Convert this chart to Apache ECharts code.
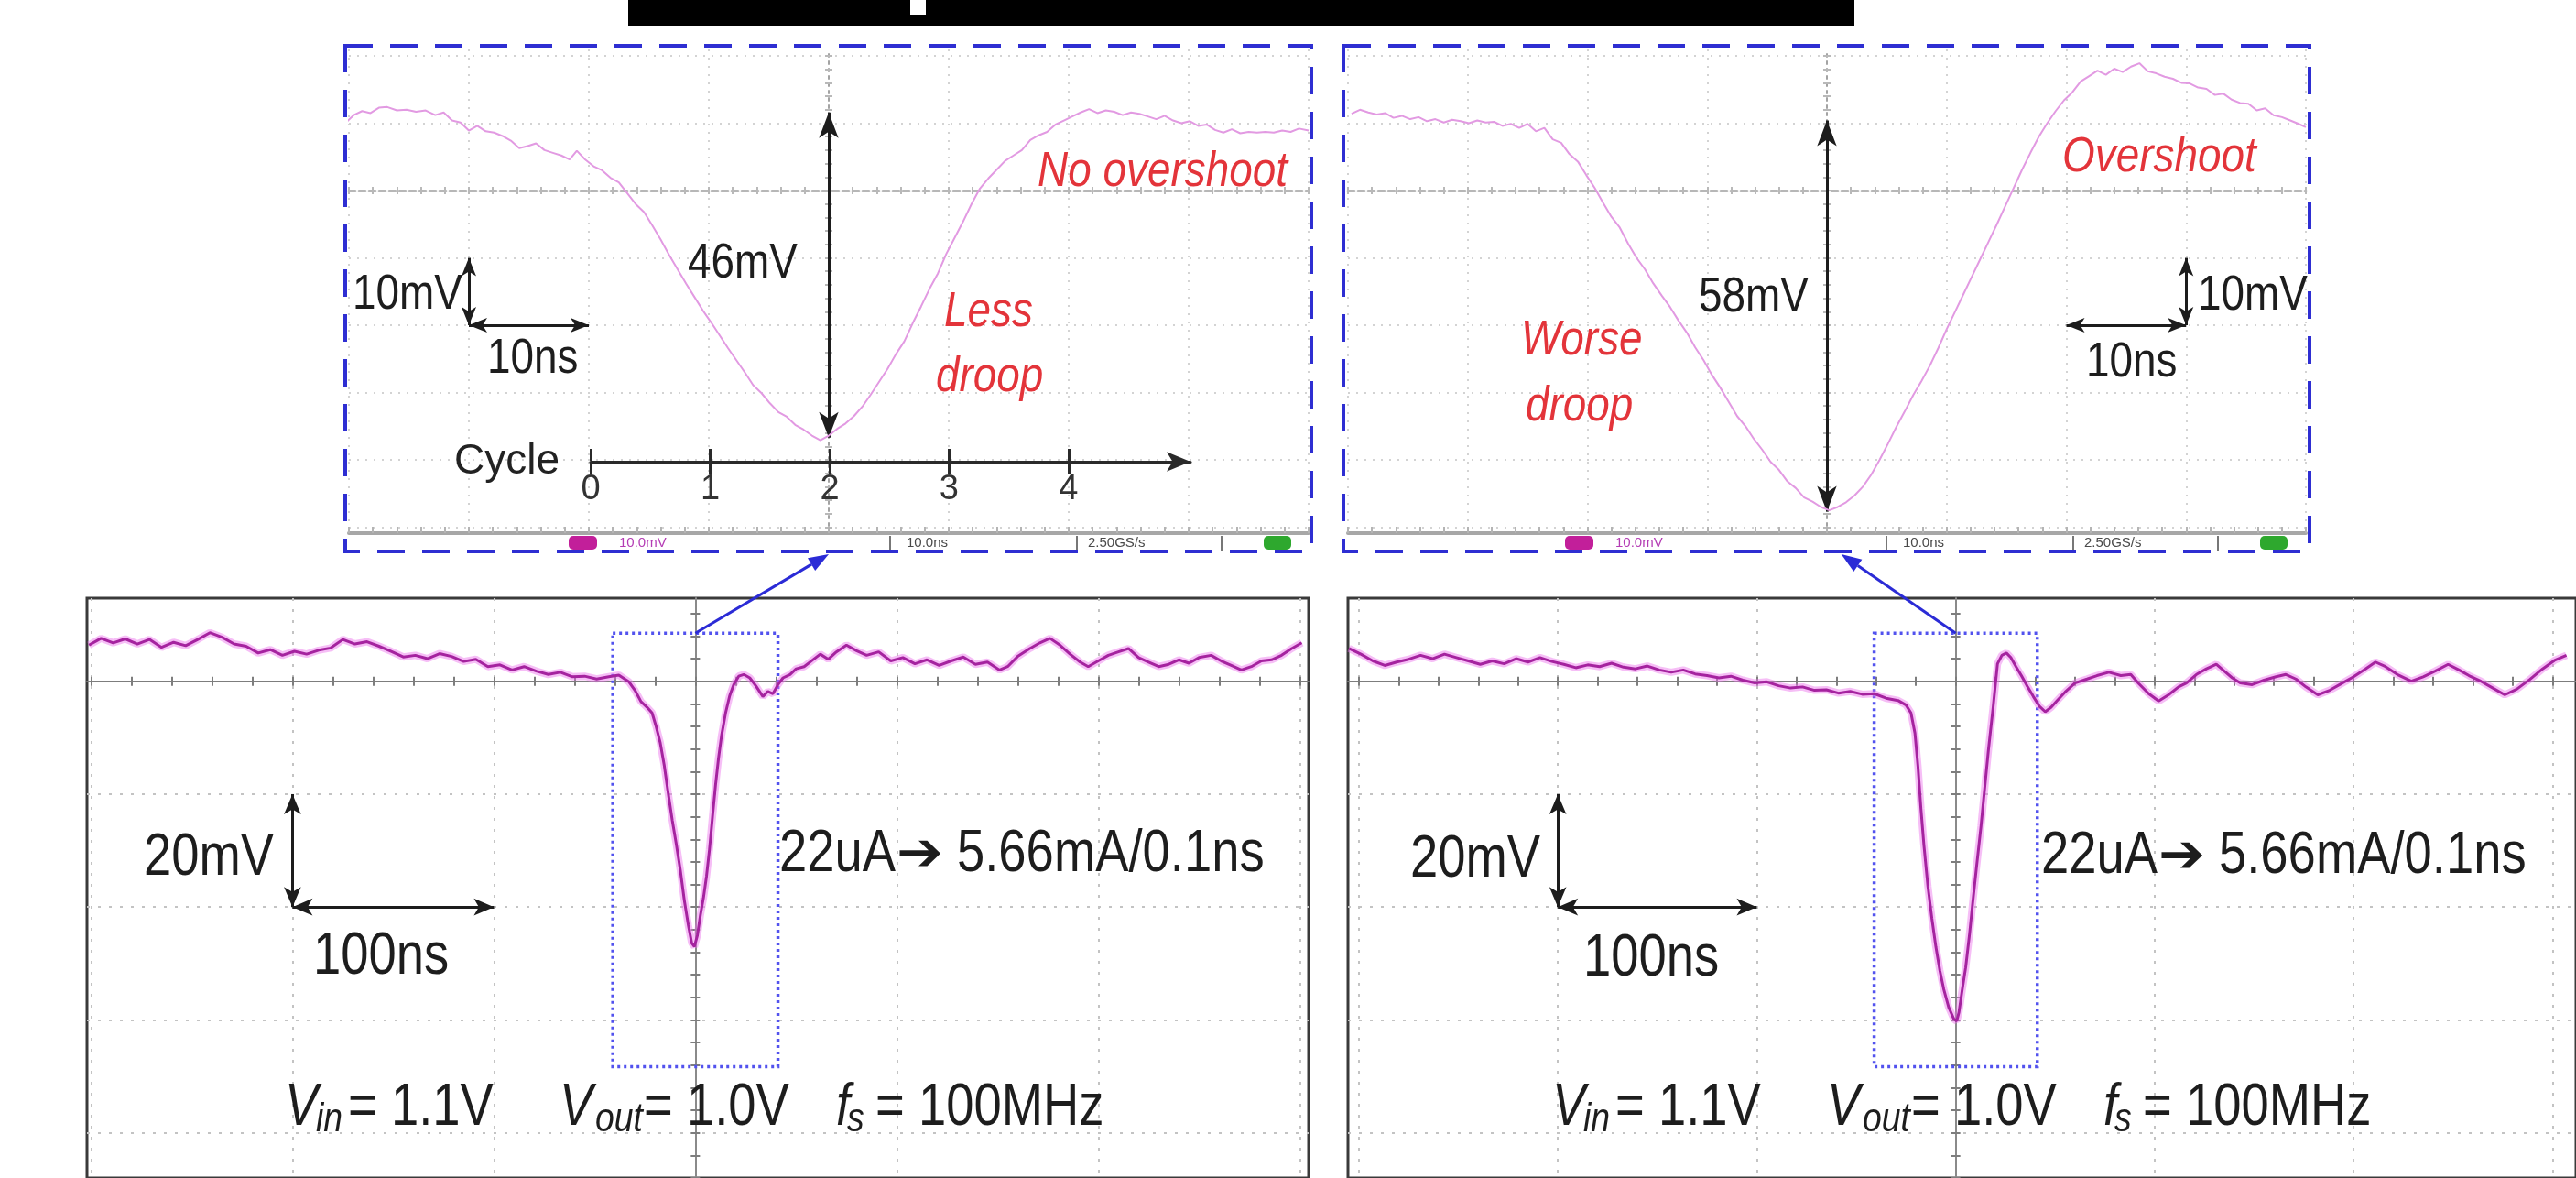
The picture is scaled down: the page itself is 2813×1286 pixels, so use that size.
<!DOCTYPE html>
<html>
<head>
<meta charset="utf-8">
<title>Droop comparison</title>
<script src="https://cdn.jsdelivr.net/npm/echarts@6/dist/echarts.min.js"></script>
<style>
  html, body { margin: 0; padding: 0; background: #fff; }
  #chart { width: 2813px; height: 1286px; }
</style>
</head>
<body>
<div id="chart"></div>
<script>
// ---- values (time in ns, voltage in mV from the centre line) ----

// zoomed window, "less droop" case (10ns/div, 10mV/div)
const zoomLessNs = [-40.3,-39.6,-38.9,-38.2,-37.5,-36.8,-36.0,-35.2,-34.4,-33.6,-32.8,-32.1,-31.4,-30.7,-30.0,-29.3,-28.6,-27.9,-27.2,-26.5,-25.8,-25.1,-24.4,-23.7,-23.0,-22.3,-21.6,-21.0,-20.3,-19.6,-18.9,-18.2,-17.5,-16.8,-16.1,-15.4,-14.7,-14.0,-13.3,-12.6,-11.9,-11.2,-10.5,-9.8,-9.1,-8.4,-7.7,-7.0,-6.3,-5.6,-4.9,-4.2,-3.5,-2.8,-2.1,-1.4,-0.7,0.0,0.7,1.4,2.1,2.8,3.5,4.2,4.9,5.6,6.3,7.0,7.7,8.4,9.1,9.8,10.5,11.2,11.9,12.6,13.3,14.0,14.7,15.4,16.1,16.8,17.5,18.2,18.9,19.6,20.3,21.0,21.7,22.4,23.1,23.8,24.5,25.2,25.9,26.6,27.3,28.0,28.7,29.4,30.1,30.8,31.5,32.2,32.9,33.6,34.3,35.0,35.7,36.4,37.1,37.8,38.5,39.2,40.0];
const zoomLessMv = [10.0,11.2,11.8,11.5,12.3,12.4,11.9,12.0,11.7,11.9,11.2,11.6,10.4,10.1,8.9,9.6,8.8,8.6,8.1,7.4,6.3,6.6,7.0,6.0,5.6,5.2,4.6,5.9,4.6,3.6,3.0,1.9,1.2,-0.4,-2.0,-3.2,-5.2,-7.3,-9.6,-11.7,-13.8,-15.8,-17.8,-19.6,-21.5,-23.4,-25.2,-27.0,-28.9,-30.1,-31.6,-32.9,-33.6,-34.8,-35.5,-36.4,-37.1,-36.4,-35.4,-34.6,-33.5,-32.1,-30.3,-28.4,-26.5,-24.3,-22.4,-19.7,-17.2,-14.6,-12.3,-9.4,-7.0,-4.6,-2.0,0.3,1.8,3.1,4.4,5.2,6.0,7.5,8.2,8.7,9.8,10.4,11.0,11.6,12.1,11.5,11.9,11.7,11.2,11.6,11.4,11.0,10.6,11.1,10.4,10.0,10.3,9.6,9.8,9.0,8.6,9.1,8.5,8.7,8.6,8.7,8.6,8.9,8.7,9.2,8.9];

// zoomed window, "worse droop" case
const zoomWorseNs = [-39.7,-39.0,-38.3,-37.6,-36.9,-36.2,-35.5,-34.8,-34.1,-33.4,-32.7,-32.0,-31.3,-30.6,-29.9,-29.2,-28.5,-27.8,-27.1,-26.4,-25.7,-25.0,-24.3,-23.6,-22.9,-22.2,-21.5,-20.8,-20.1,-19.4,-18.7,-18.0,-17.3,-16.6,-15.9,-15.2,-14.5,-13.8,-13.1,-12.4,-11.7,-11.0,-10.3,-9.6,-8.9,-8.2,-7.5,-6.8,-6.1,-5.4,-4.7,-4.0,-3.3,-2.6,-1.9,-1.2,-0.5,0.2,0.9,1.6,2.3,3.0,3.7,4.4,5.1,5.8,6.5,7.2,7.9,8.6,9.3,10.0,10.7,11.4,12.1,12.8,13.5,14.2,14.9,15.6,16.3,17.0,17.7,18.4,19.1,19.8,20.5,21.2,21.9,22.6,23.3,24.0,24.7,25.4,26.1,26.8,27.5,28.2,28.9,29.6,30.3,31.0,31.7,32.4,33.1,33.8,34.5,35.2,35.9,36.6,37.3,38.0,38.7,39.4,40.0];
const zoomWorseMv = [11.4,12.0,11.6,11.3,11.5,10.8,11.1,10.6,10.9,10.3,10.6,10.1,10.5,10.3,10.0,10.4,10.1,10.2,9.6,9.9,9.3,9.9,8.8,9.3,7.6,7.1,5.4,4.3,2.3,0.4,-1.8,-3.9,-5.5,-7.9,-10.0,-11.7,-13.8,-15.6,-17.3,-19.3,-21.1,-23.3,-25.2,-27.4,-29.3,-31.4,-33.5,-35.0,-36.9,-38.5,-40.3,-41.5,-43.2,-44.2,-45.6,-46.2,-47.0,-47.5,-47.0,-46.3,-45.3,-44.0,-42.2,-40.0,-37.6,-35.1,-32.8,-30.4,-28.3,-26.0,-23.4,-20.6,-18.0,-15.4,-12.8,-10.2,-7.6,-5.0,-2.3,0.4,3.1,5.6,8.0,10.0,11.8,13.4,14.6,16.2,17.0,17.8,17.2,18.1,17.6,18.4,18.9,17.7,17.4,16.9,16.6,16.0,15.9,15.3,15.1,14.2,14.4,13.5,13.0,12.9,11.9,12.2,11.2,10.9,10.4,9.9,9.4];

// full captures (100ns/div, 20mV/div)
const fullLessNs = [-301,-295,-289,-283,-277,-271,-265,-259,-253,-247,-241,-235,-229,-223,-217,-211,-205,-199,-193,-187,-181,-175,-169,-163,-157,-151,-145,-139,-133,-127,-121,-115,-109,-103,-97,-91,-85,-79,-73,-67,-61,-55,-49,-43,-38,-33,-30,-27,-24,-21.5,-19.5,-17.5,-15.5,-13.5,-11.5,-9.5,-7.5,-5.5,-3.5,-1.8,-0.5,1.0,2.5,4.0,5.5,7.0,8.5,10.0,11.5,13.0,15.0,17.0,19.0,21.5,24.0,27.0,30.0,33.5,36.0,38.5,41.0,43.5,47,50,54,58,62,66,70,75,80,85,91,97,103,109,115,121,127,133,139,145,151,155,160,166,171,176,181,186,191,195,200,205,210,215,220,225,230,235,240,245,250,256,261,266,271,276,281,286,291,296,301];
const fullLessMv = [6.4,7.6,6.8,7.5,6.6,7.4,6.0,6.9,6.3,7.4,8.6,7.8,6.6,6.2,5.0,5.6,4.6,5.3,4.8,5.5,5.9,7.4,6.6,7.0,6.2,5.3,4.3,4.6,4.0,4.9,4.4,3.5,3.9,2.6,2.9,2.0,2.6,1.8,1.2,1.6,0.8,0.9,0.4,0.8,1.1,-0.1,-1.6,-3.6,-4.6,-5.6,-8.0,-10.8,-14.8,-19.8,-24.6,-28.8,-33.4,-38.8,-43.2,-46.4,-47.0,-45.0,-41.4,-38.4,-34.6,-29.8,-24.0,-18.4,-13.6,-9.6,-5.6,-2.6,-0.6,0.9,1.2,0.6,-0.8,-2.7,-1.8,-2.2,-0.6,0.6,1.2,2.2,2.6,3.7,4.8,3.9,5.2,6.4,5.4,4.6,5.2,3.6,4.2,3.1,3.8,2.8,3.6,4.3,3.0,3.4,2.0,2.6,4.4,5.8,6.8,7.6,6.4,4.8,3.4,2.6,3.6,4.6,5.2,5.8,4.2,3.4,2.6,3.0,3.8,3.2,4.2,4.6,3.6,2.8,2.0,2.6,3.6,3.8,4.6,5.8,6.8];

const fullWorseNs = [-305,-299,-293,-287,-281,-275,-269,-263,-257,-251,-245,-239,-233,-227,-221,-215,-209,-203,-197,-191,-185,-179,-173,-167,-161,-155,-149,-143,-137,-131,-125,-119,-113,-107,-101,-95,-89,-83,-77,-71,-65,-59,-53,-47,-41,-35,-29,-25,-22.5,-20.5,-19,-17.5,-16,-14,-12,-10,-8,-6,-3.5,-1,0.5,1.6,3.2,5,7,8.6,10.6,12.7,14.6,16.4,18.8,21,23.2,25.5,27.7,30.3,33,36,39,42,45,48,51,55,60,66,71,77,83,88,92,97,102,107,112,116,121,126,131,135,139,143,149,155,161,166,171,176,182,188,194,200,206,211,216,222,229,235,241,247.5,253,258,264,270,276,282,288.5,295,301,307];
const fullWorseMv = [5.8,4.8,3.6,2.8,3.4,3.9,4.6,4.0,4.8,4.2,3.6,3.0,3.6,3.1,4.0,3.4,4.2,3.5,3.0,2.4,2.9,2.6,3.2,2.5,2.2,2.7,2.0,1.6,2.0,1.3,1.0,0.6,0.9,0.2,-0.3,-0.1,-0.8,-1.2,-1.0,-1.6,-1.5,-2.1,-1.8,-2.3,-2.2,-3.0,-3.4,-4.2,-5.6,-9.2,-15,-22.5,-29.0,-36.3,-42.0,-47.0,-51.2,-54.6,-57.8,-59.8,-60.2,-58.7,-54.8,-50.7,-44.6,-39,-32.4,-25.7,-18.8,-12.3,-4.6,3.1,4.6,5.0,4.2,2.6,1.0,-0.9,-2.7,-4.4,-5.4,-4.6,-3.4,-1.9,-0.3,0.4,1.0,1.6,1.0,1.2,-0.4,-2.2,-3.5,-2.4,-1.0,-0.3,1.2,2.2,3.0,1.8,0.6,-0.3,-0.6,0.2,0.8,1.2,0.4,-1.0,-2.4,-1.6,-0.4,0.8,2.2,3.4,2.6,1.2,0.0,0.8,1.8,3.0,2.0,1.0,0.0,-1.2,-2.4,-1.4,0.3,2.2,3.7,4.6];

// droop arrows (top / bottom of the measured swing, mV)
const droopLessMv = [11.6, -36.7];   // 46mV
const droopWorseMv = [10.4, -47.7];  // 58mV
// dotted window on the full captures that the zoom shows
const windowNs = [-41, 41];
const windowMv = [-68.3, 8.5];
// cycle ruler under the left zoom (1 cycle = 10ns at 100MHz)
const cycleTicks = [0, 1, 2, 3, 4];

// ---- layout ----
const FONT = "'Liberation Sans', Arial, 'DejaVu Sans', sans-serif";
const INK = '#1d1d1d';
const RED = '#e3343a';
const BLUE = '#2b2bd6';

const chart = echarts.init(document.getElementById('chart'));

const grid = [], xAxis = [], yAxis = [], series = [];

function ticksBetween(a, b, step) {
  const out = [];
  for (let k = Math.ceil(a / step - 1e-9); k * step <= b + 1e-9; k++) out.push(+(k * step).toFixed(4));
  return out;
}
function pairs(xs, ys) {
  const n = Math.min(xs.length, ys.length);
  return xs.slice(0, n).map((x, i) => [x, ys[i]]);
}

// one scope screen: dotted division grid + centre cross with small sub-division ticks
function scopePanel(p) {
  const gi = grid.length;
  grid.push({ left: p.left, top: p.top, width: p.width, height: p.height,
    show: !!p.frame, borderColor: '#3a3a3a', borderWidth: 3, backgroundColor: 'transparent' });
  const xi = xAxis.length, yi = yAxis.length;
  const divX = ticksBetween(p.x[0], p.x[1], p.divX).filter(v => v !== 0);
  const divY = ticksBetween(p.y[0], p.y[1], p.divY).filter(v => v !== 0);
  const subX = ticksBetween(p.x[0], p.x[1], p.divX / 5);
  const subY = ticksBetween(p.y[0], p.y[1], p.divY / 5);
  const base = { gridIndex: gi, type: 'value', axisLabel: { show: false }, splitLine: { show: false } };

  xAxis.push({ ...base, position: 'bottom', min: p.x[0], max: p.x[1],
    axisLine: { show: false, onZero: false },
    axisTick: { show: false, customValues: divX },
    splitLine: { show: true, lineStyle: p.dots } });
  yAxis.push({ ...base, position: 'left', min: p.y[0], max: p.y[1],
    axisLine: { show: false, onZero: false },
    axisTick: { show: false, customValues: divY },
    splitLine: { show: true, lineStyle: p.dots } });

  // centre cross: two copies so the little ticks cross the line
  [false, true].forEach(inside => {
    xAxis.push({ ...base, position: 'bottom', min: p.x[0], max: p.x[1],
      axisLine: { show: !inside, onZero: true, onZeroAxisIndex: yi, lineStyle: p.crossX },
      axisTick: { show: true, inside, length: p.tick, customValues: subX, lineStyle: p.tickStyle } });
    yAxis.push({ ...base, position: 'left', min: p.y[0], max: p.y[1],
      axisLine: { show: !inside, onZero: true, onZeroAxisIndex: xi, lineStyle: p.crossY },
      axisTick: { show: true, inside, length: p.tick, customValues: subY, lineStyle: p.tickStyle } });
  });

  if (p.statusBar) {
    xAxis.push({ ...base, position: 'bottom', min: p.x[0], max: p.x[1],
      axisLine: { onZero: false, lineStyle: { color: '#a7a7a7', width: 4 } },
      axisTick: { inside: true, length: 7, customValues: subX, lineStyle: { color: '#b4b4b4', width: 2 } } });
  }
  return { gi, xi, yi };
}

const zoomStyle = {
  divX: 10, divY: 10, tick: 4, statusBar: true,
  dots: { color: '#d3d3d3', width: 2, type: [2, 7] },
  crossX: { color: '#b7b7b7', width: 3, type: [7, 4] },
  crossY: { color: '#a3a3a3', width: 2, type: [3, 5] },
  tickStyle: { color: '#b9b9b9', width: 2 }
};
const fullStyle = {
  divX: 100, divY: 20, tick: 5, frame: true,
  dots: { color: '#c3c3c3', width: 2, type: [3, 9] },
  crossX: { color: '#7d7d7d', width: 2 },
  crossY: { color: '#8a8a8a', width: 2 },
  tickStyle: { color: '#7d7d7d', width: 2 }
};

const pZL = scopePanel({ ...zoomStyle, left: 381, top: 54, width: 1048, height: 528, x: [-40, 40], y: [-50.88, 20.95] });
const pZW = scopePanel({ ...zoomStyle, left: 1472, top: 54, width: 1046, height: 528, x: [-40, 40], y: [-50.88, 20.95] });
const pFL = scopePanel({ ...fullStyle, left: 95, top: 653, width: 1334, height: 642, x: [-302, 304.4], y: [-88, 14.72] });
const pFW = scopePanel({ ...fullStyle, left: 1472, top: 653, width: 1358, height: 642, x: [-305.5, 311.8], y: [-88, 14.72] });

// cycle ruler (its own little grid so it is a real axis)
const cg = grid.length;
grid.push({ left: 645, top: 503, width: 655, height: 1, show: false });
const cycleBase = { gridIndex: cg, type: 'value', min: 0, max: 5.02, splitLine: { show: false } };
const rulerInk = { color: '#2a2a2a', width: 3 };
xAxis.push({ ...cycleBase, position: 'bottom',
  axisLine: { onZero: false, symbol: ['none', 'arrow'], symbolSize: [16, 26], lineStyle: rulerInk },
  axisTick: { customValues: cycleTicks, length: 13, lineStyle: rulerInk },
  axisLabel: { customValues: cycleTicks, fontSize: 38, color: '#333', fontFamily: FONT, margin: 12 },
  name: 'Cycle', nameLocation: 'start', nameGap: 34,
  nameTextStyle: { fontSize: 46, color: '#222', fontFamily: FONT, padding: [10, 0, 0, 0] } });
xAxis.push({ ...cycleBase, position: 'top',
  axisLine: { show: false, onZero: false },
  axisTick: { customValues: cycleTicks, length: 13, lineStyle: rulerInk },
  axisLabel: { show: false } });
yAxis.push({ gridIndex: cg, type: 'value', show: false, min: 0, max: 1 });

// ---- series ----
const arrowLine = { color: INK, width: 3, type: 'solid' };
function scaleBars(x0, y0, dx, dy) {
  const s = [12, 20];
  return [
    [{ coord: [x0, y0], symbolSize: s }, { coord: [x0, y0 - dy], symbolSize: s }],
    [{ coord: [x0 + (dx < 0 ? dx : 0), y0 - dy], symbolSize: s }, { coord: [x0 + (dx < 0 ? 0 : dx), y0 - dy], symbolSize: s }]
  ];
}
function marks(droop, bars) {
  return {
    silent: true, animation: false, symbol: ['arrow', 'arrow'], symbolSize: [16, 28],
    label: { show: false }, lineStyle: arrowLine,
    data: [[{ coord: [0, droop[0]] }, { coord: [0, droop[1]] }], ...bars]
  };
}

const sZL = series.length;
series.push({ type: 'line', xAxisIndex: pZL.xi, yAxisIndex: pZL.yi, data: pairs(zoomLessNs, zoomLessMv),
  symbol: 'none', silent: true, z: 5, lineStyle: { color: '#e29ae2', width: 2 },
  markLine: marks(droopLessMv, scaleBars(-30, -10, 10, 10)) });
const sZW = series.length;
series.push({ type: 'line', xAxisIndex: pZW.xi, yAxisIndex: pZW.yi, data: pairs(zoomWorseNs, zoomWorseMv),
  symbol: 'none', silent: true, z: 5, lineStyle: { color: '#e29ae2', width: 2 },
  markLine: marks(droopWorseMv, scaleBars(30, -10, -10, 10)) });

function fullTrace(panel, xs, ys) {
  const data = pairs(xs, ys);
  series.push({ type: 'line', xAxisIndex: panel.xi, yAxisIndex: panel.yi, data,
    symbol: 'none', silent: true, z: 4, lineStyle: { color: 'rgba(236,110,236,0.45)', width: 8 } });
  const idx = series.length;
  series.push({ type: 'line', xAxisIndex: panel.xi, yAxisIndex: panel.yi, data,
    symbol: 'none', silent: true, z: 5, lineStyle: { color: '#a5239f', width: 3 },
    markArea: { silent: true,
      itemStyle: { color: 'rgba(0,0,0,0)', borderColor: '#5252ee', borderWidth: 3.5, borderType: [3, 4] },
      data: [[{ coord: [windowNs[0], windowMv[1]] }, { coord: [windowNs[1], windowMv[0]] }]] },
    markLine: { silent: true, animation: false, symbol: ['arrow', 'arrow'], symbolSize: [14, 22],
      label: { show: false }, lineStyle: arrowLine,
      data: [
        [{ coord: [-200, -20] }, { coord: [-200, -40] }],
        [{ coord: [-200, -40] }, { coord: [-100, -40] }]
      ] } });
  return idx;
}
const sFL = fullTrace(pFL, fullLessNs, fullLessMv);
const sFW = fullTrace(pFW, fullWorseNs, fullWorseMv);

chart.setOption({
  backgroundColor: '#ffffff',
  animation: false,
  grid, xAxis, yAxis, series
});

// ---- annotations ----
function text(str, x, y, size, opt = {}) {
  return {
    type: 'text', x, y, scaleX: opt.sx || 0.85, z: 100, silent: true,
    style: { text: str, fontSize: size, fontFamily: opt.family || FONT,
      fontStyle: opt.italic ? 'italic' : 'normal', fontWeight: opt.weight || 'normal',
      fill: opt.color || INK, align: 'left', verticalAlign: 'middle' }
  };
}
function link(fromSeries, fromPt, toSeries, toPt) {
  const a = chart.convertToPixel({ seriesIndex: fromSeries }, fromPt);
  const b = chart.convertToPixel({ seriesIndex: toSeries }, toPt);
  const ang = Math.atan2(b[1] - a[1], b[0] - a[0]);
  const L = 22, W = 8;
  const c = Math.cos(ang), s = Math.sin(ang);
  const bx = b[0] - L * c, by = b[1] - L * s;
  return [
    { type: 'line', z: 110, silent: true, shape: { x1: a[0], y1: a[1], x2: bx, y2: by }, style: { stroke: BLUE, lineWidth: 3 } },
    { type: 'polygon', z: 110, silent: true,
      shape: { points: [[b[0], b[1]], [bx + W * s, by - W * c], [bx - W * s, by + W * c]] }, style: { fill: BLUE } }
  ];
}
function statusRow(dx) {
  const y = 593;
  const row = [
    { type: 'rect', z: 90, silent: true, shape: { x: 621 + dx, y: 585, width: 31, height: 15, r: 5 }, style: { fill: '#c21f9a' } },
    text('10.0mV', 676 + dx, y, 15, { color: '#b43cb4', sx: 1 }),
    text('10.0ns', 990 + dx, y, 15, { color: '#4a4a4a', sx: 1 }),
    text('2.50GS/s', 1188 + dx, y, 15, { color: '#4a4a4a', sx: 1 }),
    { type: 'rect', z: 90, silent: true, shape: { x: 1380 + dx, y: 585, width: 30, height: 15, r: 5 }, style: { fill: '#2ea82e' } }
  ];
  [972, 1176, 1334].forEach(x => row.push({ type: 'line', z: 90, silent: true,
    shape: { x1: x + dx, y1: 585, x2: x + dx, y2: 601 }, style: { stroke: '#777', lineWidth: 2 } }));
  return row;
}
function currentStep(x, y) {
  return [
    text('22uA', x, y, 64),
    text('\u2794', x + 128, y + 2, 58, { family: "'DejaVu Sans', sans-serif", sx: 1.05 }),
    text('5.66mA/0.1ns', x + 194, y, 64)
  ];
}
function bottomLine(dx) {
  const main = 1210, sub = 1223, big = 64, small = 44;
  return [
    text('V', 311 + dx, main, big, { italic: true }),
    text('in', 345 + dx, sub, small, { italic: true }),
    text('= 1.1V', 380 + dx, main, big),
    text('V', 611 + dx, main, big, { italic: true }),
    text('out', 650 + dx, sub, small, { italic: true }),
    text('= 1.0V', 703 + dx, main, big),
    text('f', 913 + dx, main, big, { italic: true }),
    text('s', 925 + dx, sub, small, { italic: true }),
    text('= 100MHz', 956 + dx, main, big)
  ];
}

const graphic = [
  // banner cut off at the top edge
  { type: 'rect', z: 100, silent: true, shape: { x: 686, y: 0, width: 1339, height: 28 }, style: { fill: '#000' } },
  { type: 'rect', z: 101, silent: true, shape: { x: 994, y: 0, width: 17, height: 16 }, style: { fill: '#fff' } },
  // dashed frames of the zoomed windows
  { type: 'rect', z: 105, silent: true, shape: { x: 377, y: 50, width: 1055, height: 552 },
    style: { fill: 'none', stroke: '#2e2ed2', lineWidth: 4, lineDash: [30, 19] } },
  { type: 'rect', z: 105, silent: true, shape: { x: 1467, y: 50, width: 1055, height: 552 },
    style: { fill: 'none', stroke: '#2e2ed2', lineWidth: 4, lineDash: [30, 19] } },
  ...statusRow(0), ...statusRow(1088),

  text('46mV', 751, 288, 54),
  text('10mV', 385, 322, 54),
  text('10ns', 532, 392, 54),
  text('No overshoot', 1133, 188, 54, { italic: true, color: RED }),
  text('Less', 1031, 341, 54, { italic: true, color: RED }),
  text('droop', 1022, 412, 54, { italic: true, color: RED }),

  text('58mV', 1855, 325, 54),
  text('Worse', 1661, 372, 54, { italic: true, color: RED }),
  text('droop', 1666, 444, 54, { italic: true, color: RED }),
  text('Overshoot', 2252, 172, 54, { italic: true, color: RED }),
  text('10mV', 2400, 323, 54),
  text('10ns', 2278, 396, 54),

  text('20mV', 157, 937, 64),
  text('100ns', 342, 1045, 64),
  ...currentStep(851, 933),
  text('20mV', 1540, 939, 64),
  text('100ns', 1729, 1047, 64),
  ...currentStep(2229, 935),
  ...bottomLine(0), ...bottomLine(1384),

  // zoom call-outs: from the dotted window up to the zoomed screen
  ...link(sFL, [0, windowMv[1]], sZL, [0, -54]),
  ...link(sFW, [0, windowMv[1]], sZW, [1.2, -54])
];

chart.setOption({ graphic });
</script>
</body>
</html>
